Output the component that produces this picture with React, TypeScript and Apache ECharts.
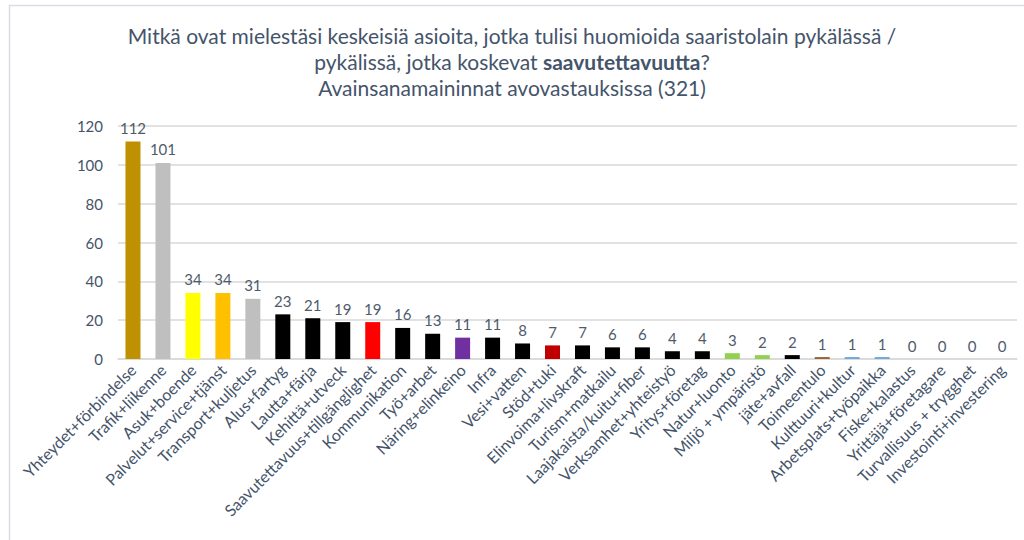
import React, { useEffect, useRef } from "react";
import * as echarts from "echarts";

const categories = [
  "Yhteydet+förbindelse",
  "Trafik+liikenne",
  "Asuk+boende",
  "Palvelut+service+tjänst",
  "Transport+kuljetus",
  "Alus+fartyg",
  "Lautta+färja",
  "Kehittä+utveck",
  "Saavutettavuus+tillgänglighet",
  "Kommunikation",
  "Työ+arbet",
  "Näring+elinkeino",
  "Infra",
  "Vesi+vatten",
  "Stöd+tuki",
  "Elinvoima+livskraft",
  "Turism+matkailu",
  "Laajakaista/kuitu+fiber",
  "Verksamhet+yhteistyö",
  "Yritys+företag",
  "Natur+luonto",
  "Miljö + ympäristö",
  "jäte+avfall",
  "Toimeentulo",
  "Kulttuuri+kultur",
  "Arbetsplats+työpaikka",
  "Fiske+kalastus",
  "Yrittäjä+företagare",
  "Turvallisuus + trygghet",
  "Investointi+investering",
];

const values = [112, 101, 34, 34, 31, 23, 21, 19, 19, 16, 13, 11, 11, 8, 7, 7, 6, 6, 4, 4, 3, 2, 2, 1, 1, 1, 0, 0, 0, 0];

const barColors = [
  "#BF9000", "#BFBFBF", "#FFFF00", "#FFC000", "#BFBFBF",
  "#000000", "#000000", "#000000", "#FF0000", "#000000",
  "#000000", "#7030A0", "#000000", "#000000", "#C00000",
  "#000000", "#000000", "#000000", "#000000", "#000000",
  "#92D050", "#92D050", "#000000", "#996633", "#6FA8DC",
  "#6FA8DC", "#000000", "#000000", "#000000", "#000000",
];

const yTicks = [0, 20, 40, 60, 80, 100, 120];

const titleLine1 = "Mitkä ovat mielestäsi keskeisiä asioita, jotka tulisi huomioida saaristolain pykälässä /";
const titleLine2a = "pykälissä, jotka koskevat ";
const titleBold = "saavutettavuutta";
const titleLine2b = "?";
const titleLine3 = "Avainsanamaininnat avovastauksissa (321)";

const FONT = "Lato, 'Open Sans', sans-serif";
const TEXT = "#44546A";

export default function App() {
  const ref = useRef<HTMLDivElement>(null);
  useEffect(() => {
    if (!ref.current) return;
    const chart = echarts.init(ref.current, undefined, { renderer: "svg" });
    chart.setOption({
      animation: false,
      backgroundColor: "#ffffff",
      textStyle: { fontFamily: FONT },
      title: {
        left: "center",
        top: 17,
        text:
          "{n|" + titleLine1 + "}\n{n|" + titleLine2a + "}{b|" + titleBold + "}{n|" + titleLine2b + "}\n{n|" + titleLine3 + "}",
        textStyle: {
          fontWeight: "normal",
          rich: {
            n: { fontFamily: FONT, fontSize: 21, color: TEXT, fontWeight: "normal", lineHeight: 26 },
            b: { fontFamily: FONT, fontSize: 21, color: TEXT, fontWeight: "bold", lineHeight: 26 },
          },
        },
      },
      graphic: [
        {
          type: "rect",
          shape: { x: 9.5, y: 5.5, width: 1030, height: 560 },
          style: { fill: "none", stroke: "#D9DDE3", lineWidth: 1.5 },
          silent: true,
        },
      ],
      grid: { left: 118, right: 7, top: 126, bottom: 181, containLabel: false },
      xAxis: {
        type: "category",
        data: categories,
        axisTick: { show: false },
        axisLine: { lineStyle: { color: "#D9D9D9", width: 1.5 } },
        axisLabel: {
          rotate: 45,
          interval: 0,
          fontSize: 16,
          color: TEXT,
          fontFamily: FONT,
          margin: 8,
        },
      },
      yAxis: {
        type: "value",
        min: yTicks[0],
        max: yTicks[yTicks.length - 1],
        interval: 20,
        axisLine: { show: false },
        axisTick: { show: false },
        splitLine: { lineStyle: { color: "#D9D9D9", width: 1.5 } },
        axisLabel: { fontSize: 15, color: TEXT, fontFamily: FONT, margin: 15 },
      },
      series: [
        {
          type: "bar",
          data: values.map((v, i) => ({ value: v, itemStyle: { color: barColors[i] } })),
          barWidth: 15,
          label: {
            show: true,
            position: "top",
            distance: 6,
            fontSize: 15,
            color: "#4F5B6B",
            fontFamily: FONT,
          },
        },
      ],
    });
    return () => chart.dispose();
  }, []);
  return (
    <div
      ref={ref}
      style={{ position: "fixed", left: 0, top: 0, width: 1024, height: 540 }}
    />
  );
}
